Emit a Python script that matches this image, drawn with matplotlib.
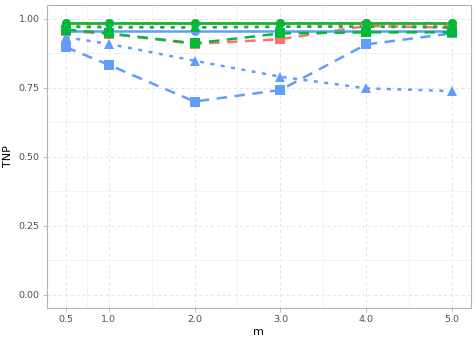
import numpy as np
import matplotlib.pyplot as plt
from matplotlib.ticker import FixedLocator

m = [0.5, 1.0, 2.0, 3.0, 4.0, 5.0]

# TNP values per method (color) and setting (linetype)
red_solid = [0.982, 0.982, 0.982, 0.982, 0.982, 0.982]
red_dotted = [0.972, 0.970, 0.968, 0.970, 0.975, 0.972]
red_dashed = [0.955, 0.945, 0.908, 0.925, 0.973, 0.967]
blue_solid = [0.956, 0.956, 0.956, 0.956, 0.956, 0.956]
blue_dotted = [0.932, 0.908, 0.847, 0.789, 0.747, 0.737]
blue_dashed = [0.896, 0.832, 0.699, 0.741, 0.906, 0.946]
green_solid = [0.985, 0.985, 0.985, 0.985, 0.985, 0.985]
green_dotted = [0.970, 0.968, 0.968, 0.970, 0.970, 0.968]
green_dashed = [0.960, 0.946, 0.910, 0.946, 0.950, 0.950]

x_ticks = [0.5, 1.0, 2.0, 3.0, 4.0, 5.0]
x_labels = ["0.5", "1.0", "2.0", "3.0", "4.0", "5.0"]
y_ticks = [0.0, 0.25, 0.5, 0.75, 1.0]
y_labels = ["0.00", "0.25", "0.50", "0.75", "1.00"]

RED, GREEN, BLUE = "#F8766D", "#00BA38", "#619CFF"
styles = {
    "solid": dict(marker="o", dashes=None),
    "dotted": dict(marker="^", dashes=(1.6, 2.6)),
    "dashed": dict(marker="s", dashes=(4.2, 3.0)),
}

series = [
    (red_solid, RED, "solid"), (red_dotted, RED, "dotted"), (red_dashed, RED, "dashed"),
    (blue_solid, BLUE, "solid"), (blue_dotted, BLUE, "dotted"), (blue_dashed, BLUE, "dashed"),
    (green_solid, GREEN, "solid"), (green_dotted, GREEN, "dotted"), (green_dashed, GREEN, "dashed"),
]

fig = plt.figure(figsize=(4.76, 3.4), dpi=100)
ax = fig.add_axes([46.5 / 476, 1 - 308.3 / 340, (471.3 - 46.5) / 476, (308.3 - 4.7) / 340])

for vals, col, lt in series:
    st = styles[lt]
    line, = ax.plot(m, vals, color=col, linewidth=1.8, zorder=3, solid_capstyle="butt")
    if st["dashes"] is not None:
        line.set_dashes(st["dashes"])
        line.set_dash_capstyle("butt")
for vals, col, lt in series:
    ax.plot(m, vals, linestyle="none", marker=styles[lt]["marker"], color=col,
            markersize=6.5, markeredgewidth=0, zorder=4)

ax.set_xlim(0.5 - 0.225, 5.0 + 0.225)
ax.set_ylim(-0.05, 1.05)
ax.set_xticks(x_ticks)
ax.set_xticklabels(x_labels)
ax.set_yticks(y_ticks)
ax.set_yticklabels(y_labels)
ax.xaxis.set_minor_locator(FixedLocator([0.75, 1.5, 2.5, 3.5, 4.5]))
ax.yaxis.set_minor_locator(FixedLocator([0.125, 0.375, 0.625, 0.875]))

ax.grid(which="major", color="#E3E3E3", linewidth=0.7, linestyle=(0, (3, 3)), zorder=0)
ax.grid(which="minor", color="#F0F0F0", linewidth=0.6, linestyle="-", zorder=0)
ax.set_axisbelow(True)

for s in ax.spines.values():
    s.set_color("#B3B3B3")
    s.set_linewidth(0.8)

ax.tick_params(which="major", length=3, width=0.6, color="#B3B3B3",
               labelsize=6.8, labelcolor="#4D4D4D", pad=2)
ax.tick_params(which="minor", length=0)

ax.set_xlabel("m", fontsize=8, color="black", labelpad=2)
ax.set_ylabel("TNP", fontsize=8, color="black", labelpad=4)

fig.savefig("out.png", dpi=100)
